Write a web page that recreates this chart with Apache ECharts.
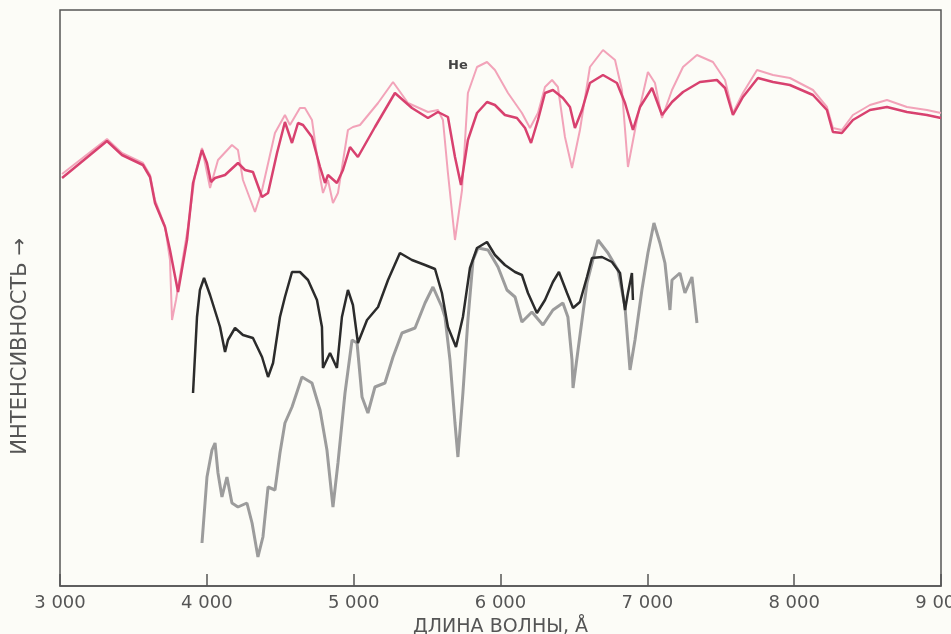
<!DOCTYPE html>
<html lang="ru">
  <head>
    <meta charset="utf-8" />
    <script src="https://cdn.jsdelivr.net/npm/echarts@6/dist/echarts.min.js"></script>
  </head>
  <body style="margin: 0; background: #fcfcf7">
    <div id="main" style="width: 951px; height: 634px"></div>
    <script>
      // длина волны (Å) и интенсивность (произв. ед.)
      var pinkDarkWl = [3014, 3320, 3422, 3565, 3613, 3647, 3715, 3749, 3804, 3865, 3906, 3967, 4001, 4028, 4056, 4124, 4212, 4260, 4314, 4376, 4417, 4478, 4532, 4580, 4621, 4655, 4716, 4771, 4805, 4825, 4886, 4927, 4975, 5029, 5145, 5281, 5397, 5506, 5574, 5642, 5690, 5731, 5778, 5840, 5908, 5962, 6030, 6112, 6167, 6208, 6255, 6303, 6357, 6425, 6473, 6507, 6555, 6609, 6698, 6793, 6848, 6902, 6950, 7032, 7100, 7168, 7243, 7358, 7474, 7529, 7583, 7651, 7753, 7856, 7971, 8128, 8223, 8264, 8325, 8400, 8516, 8632, 8768, 8904, 9000];
      var pinkDarkVal = [40.8, 44.5, 43.1, 42.1, 40.9, 38.3, 35.9, 33.6, 29.4, 34.6, 40.3, 43.6, 42.3, 40.4, 40.8, 41.1, 42.3, 41.6, 41.4, 38.9, 39.3, 43.3, 46.4, 44.3, 46.3, 46.1, 44.9, 41.9, 40.3, 41.1, 40.3, 41.6, 43.9, 42.9, 45.9, 49.3, 47.8, 46.8, 47.4, 46.9, 42.9, 40.1, 44.6, 47.3, 48.4, 48.1, 47.1, 46.8, 45.8, 44.3, 46.6, 49.3, 49.6, 48.8, 47.9, 45.8, 47.6, 50.3, 51.1, 50.3, 48.3, 45.6, 47.9, 49.8, 47.1, 48.4, 49.4, 50.4, 50.6, 49.8, 47.1, 48.9, 50.8, 50.4, 50.1, 49.1, 47.6, 45.4, 45.3, 46.6, 47.6, 47.9, 47.4, 47.1, 46.8];

      var pinkLightWl = [3014, 3320, 3422, 3565, 3613, 3647, 3715, 3749, 3763, 3790, 3872, 3919, 3967, 4022, 4076, 4171, 4212, 4246, 4328, 4376, 4464, 4532, 4566, 4634, 4668, 4716, 4771, 4791, 4825, 4859, 4893, 4961, 4995, 5043, 5166, 5268, 5370, 5506, 5574, 5608, 5642, 5690, 5738, 5778, 5840, 5908, 5962, 6051, 6146, 6201, 6255, 6303, 6351, 6391, 6439, 6487, 6541, 6609, 6698, 6780, 6827, 6868, 6929, 7004, 7052, 7100, 7168, 7243, 7338, 7447, 7529, 7583, 7651, 7747, 7856, 7971, 8128, 8223, 8264, 8325, 8400, 8516, 8632, 8768, 8904, 9000];
      var pinkLightVal = [41.2, 44.7, 43.3, 42.3, 41.1, 38.6, 36.0, 32.6, 26.6, 28.6, 35.9, 41.1, 43.8, 39.8, 42.6, 44.1, 43.6, 40.6, 37.4, 39.6, 45.3, 47.1, 46.1, 47.8, 47.8, 46.6, 40.9, 39.3, 40.6, 38.3, 39.3, 45.6, 45.9, 46.1, 48.3, 50.4, 48.3, 47.4, 47.6, 46.6, 41.3, 34.6, 39.6, 49.3, 51.9, 52.4, 51.6, 49.3, 47.3, 45.8, 47.3, 49.9, 50.6, 49.9, 44.9, 41.8, 45.6, 51.9, 53.6, 52.6, 49.6, 41.9, 46.6, 51.4, 50.3, 46.8, 49.6, 51.9, 53.1, 52.4, 50.6, 47.3, 49.3, 51.6, 51.1, 50.8, 49.6, 47.9, 45.8, 45.6, 47.1, 48.1, 48.6, 47.9, 47.6, 47.3];

      var blackWl = [3906, 3933, 3953, 3981, 4022, 4069, 4090, 4124, 4144, 4192, 4246, 4314, 4376, 4417, 4451, 4498, 4532, 4580, 4634, 4689, 4750, 4784, 4791, 4839, 4886, 4920, 4961, 4995, 5029, 5091, 5166, 5234, 5315, 5397, 5486, 5554, 5601, 5642, 5697, 5744, 5792, 5840, 5908, 5962, 6030, 6099, 6146, 6187, 6248, 6303, 6357, 6398, 6453, 6494, 6541, 6589, 6623, 6691, 6759, 6814, 6848, 6868, 6895, 6902];
      var blackVal = [19.3, 26.9, 29.6, 30.8, 29.1, 26.9, 25.9, 23.4, 24.6, 25.8, 25.1, 24.8, 22.9, 20.9, 22.3, 26.9, 28.9, 31.4, 31.4, 30.6, 28.6, 25.9, 21.8, 23.3, 21.8, 26.9, 29.6, 28.1, 24.3, 26.6, 27.9, 30.6, 33.3, 32.6, 32.1, 31.7, 29.3, 25.9, 23.9, 26.9, 31.8, 33.8, 34.4, 33.1, 32.1, 31.4, 31.1, 29.3, 27.3, 28.6, 30.4, 31.4, 29.3, 27.8, 28.4, 30.9, 32.8, 32.9, 32.4, 31.3, 27.6, 29.3, 31.3, 28.6];

      var grayWl = [3967, 4001, 4035, 4056, 4076, 4103, 4137, 4171, 4212, 4273, 4308, 4348, 4382, 4417, 4464, 4498, 4532, 4580, 4648, 4716, 4771, 4818, 4859, 4893, 4941, 4989, 5023, 5057, 5097, 5145, 5213, 5268, 5329, 5418, 5486, 5540, 5601, 5622, 5656, 5690, 5710, 5744, 5778, 5813, 5847, 5915, 5983, 6044, 6099, 6146, 6214, 6289, 6357, 6425, 6459, 6487, 6494, 6528, 6589, 6664, 6732, 6800, 6848, 6882, 6916, 6963, 7004, 7045, 7086, 7120, 7154, 7168, 7222, 7256, 7304, 7338];
      var grayVal = [4.3, 10.9, 13.6, 14.3, 11.3, 8.9, 10.9, 8.3, 7.9, 8.3, 6.3, 2.9, 4.9, 9.9, 9.6, 13.3, 16.3, 17.9, 20.9, 20.3, 17.6, 13.6, 7.9, 12.3, 19.3, 24.6, 24.3, 18.9, 17.3, 19.9, 20.3, 22.9, 25.3, 25.8, 28.3, 29.9, 27.9, 26.9, 22.6, 16.3, 12.9, 19.3, 26.6, 32.6, 33.8, 33.6, 31.9, 29.6, 28.9, 26.4, 27.4, 26.1, 27.6, 28.3, 26.9, 22.6, 19.8, 23.6, 30.3, 34.6, 33.3, 31.6, 27.9, 21.6, 24.6, 29.6, 33.3, 36.3, 34.3, 32.3, 27.6, 30.6, 31.3, 29.3, 30.9, 26.3];

      var xTicks = [3000, 4000, 5000, 6000, 7000, 8000, 9000];
      var heLabel = [5710, 52];

      function zip(a, b) {
        return a.map(function (x, i) {
          return [x, b[i]];
        });
      }

      var chart = echarts.init(document.getElementById("main"), null, { renderer: "canvas" });

      var option = {
        backgroundColor: "#fcfcf7",
        animation: false,
        grid: {
          left: 60,
          right: 10,
          top: 10,
          bottom: 48,
          outerBoundsMode: "none",
          containLabel: false,
          show: true,
          borderColor: "#555",
          borderWidth: 1.5,
          backgroundColor: "transparent",
        },
        xAxis: {
          type: "value",
          min: xTicks[0],
          max: xTicks[xTicks.length - 1],
          interval: 1000,
          name: "ДЛИНА ВОЛНЫ, Å",
          nameLocation: "middle",
          nameGap: 32,
          nameTextStyle: { fontSize: 19, color: "#555", fontFamily: "DejaVu Sans" },
          axisLine: { lineStyle: { color: "#555", width: 1.5 } },
          axisTick: { inside: true, length: 12, lineStyle: { color: "#555", width: 1.5 } },
          axisLabel: {
            fontSize: 18,
            color: "#555",
            margin: 8,
            fontFamily: "DejaVu Sans",
            formatter: function (v) {
              return String(v).replace(/(\d)(\d{3})$/, "$1 $2");
            },
          },
          splitLine: { show: false },
        },
        yAxis: {
          type: "value",
          min: 0,
          max: 57.6,
          show: false,
        },
        graphic: [
          {
            type: "text",
            left: 10,
            top: 238,
            rotation: Math.PI / 2,
            style: {
              text: "ИНТЕНСИВНОСТЬ →",
              fontSize: 21,
              fill: "#555",
              fontFamily: "DejaVu Sans",
            },
          },
        ],
        series: [
          {
            type: "line",
            data: zip(pinkLightWl, pinkLightVal),
            showSymbol: false,
            lineStyle: { color: "#f2a3b9", width: 2 },
            markPoint: {
              symbolSize: 0,
              data: [{ coord: heLabel }],
              label: {
                show: true,
                formatter: "He",
                color: "#444",
                fontSize: 13,
                fontWeight: "bold",
                fontFamily: "DejaVu Sans",
              },
            },
          },
          {
            type: "line",
            data: zip(pinkDarkWl, pinkDarkVal),
            showSymbol: false,
            lineStyle: { color: "#d8416f", width: 2.5 },
          },
          {
            type: "line",
            data: zip(grayWl, grayVal),
            showSymbol: false,
            lineStyle: { color: "#9c9c9c", width: 3 },
          },
          {
            type: "line",
            data: zip(blackWl, blackVal),
            showSymbol: false,
            lineStyle: { color: "#2b2b2b", width: 2.5 },
          },
        ],
      };

      chart.setOption(option);
    </script>
  </body>
</html>
